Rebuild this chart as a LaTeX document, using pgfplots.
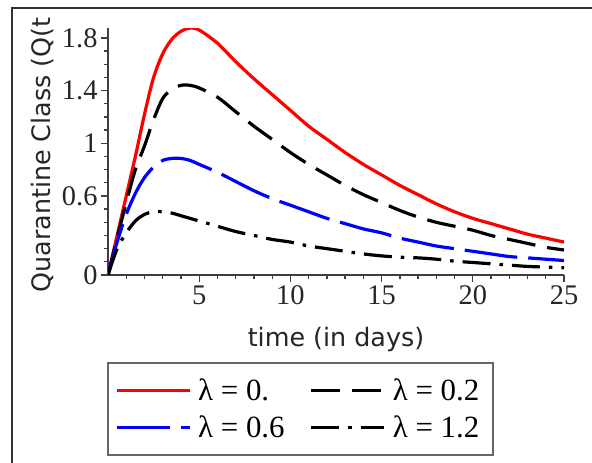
\documentclass[border=0pt]{standalone}
\usepackage{fontspec}
\setmainfont{Liberation Serif}
\newfontfamily\labelfont{DejaVu Sans}
\newfontfamily\legfont{Liberation Serif}
\newcommand\legtext{\legfont\fontsize{31}{33}\selectfont}
\usepackage{pgfplots}
\pgfplotsset{compat=1.18}
\begin{document}
\begin{tikzpicture}[x=1bp,y=1bp]
\useasboundingbox (0,0) rectangle (592,463);
\draw[line width=1.5bp, black!80] (12,0) -- (12,455) -- (592,455);
\begin{axis}[
  at={(108bp,188bp)}, anchor=south west,
  x=18.24bp, y=131.7bp,
  xmin=0, xmax=25, ymin=0, ymax=1.875,
  axis x line=bottom, axis y line=left,
  x axis line style={-}, y axis line style={-},
  axis line style={line width=1.5bp, black!75},
  tick align=outside,
  major tick length=7bp, minor tick length=4bp,
  every tick/.style={line width=1.3bp, black!75},
  xtick={5,10,15,20,25},
  minor xtick={1,2,...,25},
  ytick={0,0.6,1,1.4,1.8},
  minor ytick={0.1,0.2,...,1.8},
  ticklabel style={font=\fontsize{28.5}{30}\selectfont, black!85},
  /pgf/number format/assume math mode=true,
  xlabel={time (in days)},
  xlabel style={font=\labelfont\fontsize{25.5}{28}\selectfont, black!85, at={(axis description cs:0.5,-0.263)}, anchor=center},
  ylabel={Quarantine Class (Q(t},
  ylabel style={font=\labelfont\fontsize{25.5}{28}\selectfont, black!85, at={(axis description cs:-0.1425,0.486)}, anchor=center},
  legend columns=2,
  legend cell align=left,
  legend style={at={(axis description cs:-0.0022,-0.352)}, anchor=north west,
    draw=black!60, line width=2bp, font=\legtext,
    inner xsep=7bp, inner ysep=14bp, row sep=10bp,
    nodes={inner xsep=7bp},
    /tikz/every even column/.append style={column sep=18bp}},
  legend image code/.code={\draw[#1] (0bp,0bp) -- (73bp,0bp);},
]
\addplot[red, line width=3.2bp, smooth] coordinates {
(0,0) (0.5,0.3) (1,0.6) (1.5,0.9) (2,1.22) (2.5,1.5) (3,1.68) (3.5,1.79) (4,1.85) (4.5,1.875) (5,1.86)
(6,1.76) (7,1.62) (8,1.49) (9,1.37) (10,1.25) (11,1.13) (12,1.03) (13,0.93) (14,0.84) (15,0.76)
(16,0.68) (17,0.61) (18,0.54) (19,0.48) (20,0.43) (21,0.39) (22,0.35) (23,0.31) (24,0.28) (25,0.25)};
\addlegendentry{\legtext λ = 0.}
\addplot[black, line width=3.2bp, smooth, dash pattern=on 29bp off 12bp] coordinates {
(0,0) (0.5,0.28) (1,0.55) (1.5,0.80) (2,0.98) (2.5,1.18) (3,1.34) (3.5,1.41) (4,1.44) (4.5,1.44) (5,1.42)
(6,1.35) (7,1.24) (8,1.13) (9,1.03) (10,0.93) (11,0.84) (12,0.76) (13,0.68) (14,0.61) (15,0.55)
(16,0.49) (17,0.44) (18,0.40) (19,0.37) (20,0.34) (21,0.30) (22,0.27) (23,0.24) (24,0.21) (25,0.19)};
\addlegendentry{\legtext λ = 0.2}
\addplot[blue, line width=3.2bp, smooth, dash pattern=on 53bp off 11bp] coordinates {
(0,0) (0.5,0.25) (1,0.46) (1.5,0.62) (2,0.74) (2.5,0.82) (3,0.87) (3.5,0.885) (4,0.885) (4.5,0.87) (5,0.84)
(6,0.78) (7,0.71) (8,0.64) (9,0.58) (10,0.53) (11,0.48) (12,0.43) (13,0.39) (14,0.35) (15,0.32)
(16,0.28) (17,0.25) (18,0.22) (19,0.20) (20,0.18) (21,0.16) (22,0.14) (23,0.13) (24,0.12) (25,0.11)};
\addlegendentry{\legtext λ = 0.6}
\addplot[black, line width=3.2bp, smooth, dash pattern=on 28bp off 9bp on 3.5bp off 9bp] coordinates {
(0,0) (0.5,0.2) (1,0.32) (1.5,0.41) (2,0.46) (2.5,0.48) (3,0.48) (3.5,0.47) (4,0.45) (5,0.41)
(6,0.37) (7,0.33) (8,0.30) (9,0.27) (10,0.25) (11,0.22) (12,0.20) (13,0.18) (14,0.16) (15,0.145)
(16,0.135) (17,0.13) (18,0.12) (19,0.105) (20,0.095) (21,0.085) (22,0.075) (23,0.065) (24,0.06) (25,0.055)};
\addlegendentry{\legtext λ = 1.2}
\end{axis}
\end{tikzpicture}
\end{document}
